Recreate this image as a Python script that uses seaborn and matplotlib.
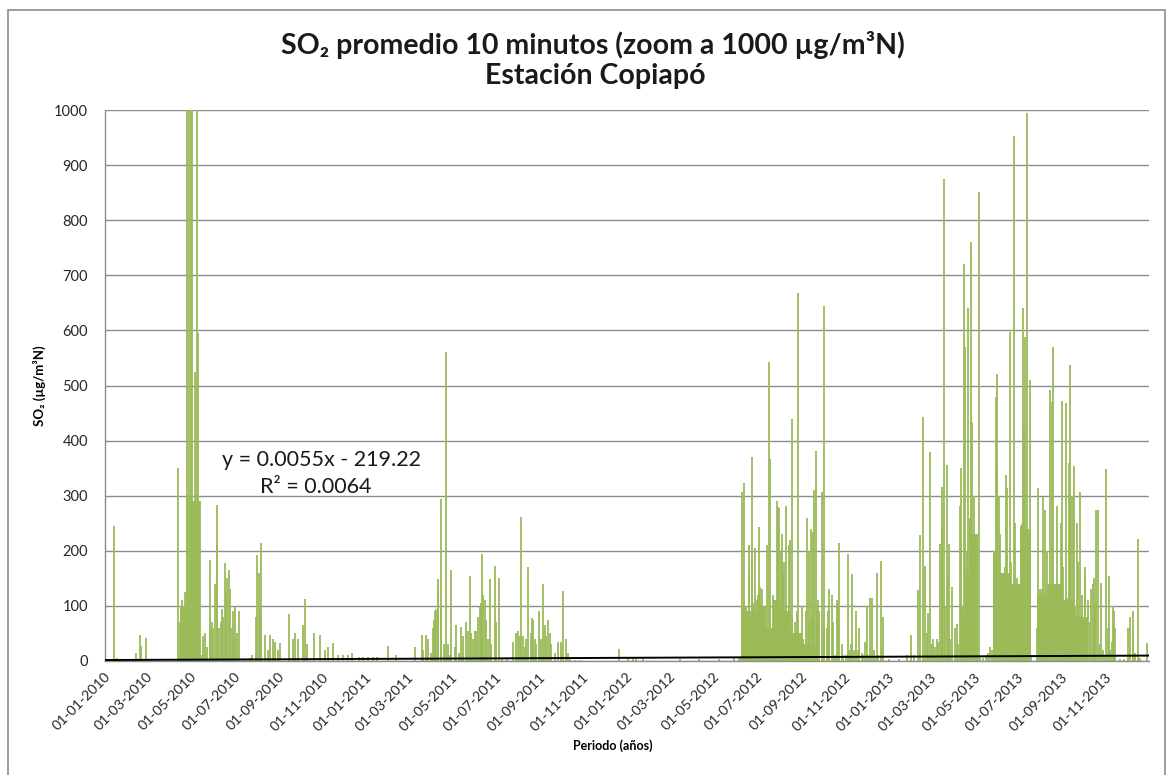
import numpy as np
import pandas as pd
import matplotlib
matplotlib.use("Agg")
import matplotlib.pyplot as plt
import seaborn as sns

# ---------------- data ----------------
start_date = "2010-01-01"
# days since 2010-01-01 for each visible 10-minute peak, and its value (µg/m³N, clipped at 1000)
days_2010 = [13, 18, 21, 44, 50, 51, 58, 103, 106, 108, 110, 113, 115, 116, 118, 120, 121, 123, 125,
             127, 129, 130, 131, 133, 136, 138, 140, 143, 147, 148, 150, 152, 154, 157, 158, 160,
             163, 165, 166, 168, 170, 172, 174, 175, 178, 180, 182, 183, 185, 188, 196, 203, 206,
             212, 214, 216, 217, 219, 224, 229, 232, 236, 239, 243, 246, 258, 263, 266, 271, 277,
             280, 283, 293, 301, 309, 313, 320, 327, 334, 341, 346, 356, 362]
vals_2010 = [245, 6, 4, 14, 48, 28, 42, 350, 70, 110, 95, 125, 300, 1000, 1000, 300, 1000, 1000, 290,
             525, 1000, 290, 595, 290, 10, 45, 50, 25, 183, 60, 70, 60, 140, 210, 283, 60,
             70, 95, 80, 178, 120, 150, 165, 130, 60, 90, 40, 100, 50, 90, 4, 5, 10,
             80, 193, 160, 100, 215, 47, 20, 47, 40, 35, 20, 32, 85, 40, 50, 40, 65,
             112, 30, 50, 48, 20, 25, 32, 10, 10, 10, 15, 8, 8]

days_2011 = [369, 376, 381, 396, 408, 434, 444, 446, 450, 452, 457, 460, 461, 462, 464, 466, 467, 470,
             471, 475, 478, 481, 483, 485, 490, 492, 496, 499, 502, 505, 508, 511, 513, 516, 518,
             520, 523, 525, 526, 528, 530, 532, 534, 537, 539, 541, 546, 548, 552, 556, 563, 572,
             576, 579, 581, 583, 585, 588, 590, 593, 596, 598, 599, 602, 604, 608, 610, 613, 616,
             618, 620, 623, 625, 630, 635, 638, 642, 646, 648, 651, 658, 665, 720]
vals_2011 = [8, 8, 8, 28, 10, 25, 48, 20, 48, 40, 15, 60, 75, 90, 95, 130, 149, 294,
             100, 30, 560, 30, 10, 165, 25, 66, 15, 62, 45, 70, 55, 155, 50, 40, 55,
             55, 80, 100, 105, 195, 120, 110, 75, 40, 149, 30, 172, 70, 151, 3, 3, 35,
             50, 55, 45, 262, 45, 25, 40, 171, 50, 78, 75, 40, 30, 90, 40, 140, 65,
             45, 75, 50, 30, 15, 35, 35, 127, 40, 15, 5, 2, 2, 22]

days_2012 = [732, 739, 743, 753, 805, 832, 860, 881, 887, 890, 892, 894, 895, 898, 899, 901, 902, 905,
             906, 908, 910, 912, 914, 915, 917, 919, 921, 923, 926, 928, 930, 931, 933, 935, 937,
             940, 942, 944, 946, 948, 949, 950, 953, 955, 957, 959, 961, 962, 964, 966, 968, 970,
             972, 975, 977, 981, 983, 985, 986, 988, 990, 991, 993, 995, 997, 998, 1000, 1003,
             1006, 1007, 1010, 1012, 1014, 1017, 1019, 1022, 1024, 1026, 1028, 1031, 1033, 1037,
             1040, 1042, 1044, 1046, 1048, 1051, 1054, 1056, 1059, 1061, 1064, 1066, 1068, 1071,
             1074, 1076, 1078, 1080, 1082, 1086, 1089]
vals_2012 = [8, 8, 6, 5, 3, 4, 4, 5, 5, 5, 307, 323, 105, 100, 70, 211, 160, 185,
             371, 105, 205, 110, 120, 243, 135, 130, 80, 100, 210, 50, 543, 366, 40, 120, 65,
             290, 280, 277, 200, 230, 160, 180, 281, 80, 210, 220, 439, 80, 50, 70, 90, 668,
             30, 100, 40, 90, 260, 70, 200, 240, 80, 235, 310, 381, 90, 110, 90, 306,
             645, 60, 60, 90, 130, 120, 70, 10, 110, 100, 215, 30, 10, 10,
             194, 20, 30, 158, 20, 90, 20, 60, 15, 10, 35, 100, 10, 115,
             115, 20, 5, 160, 10, 182, 80]

days_2013 = [1098, 1112, 1122, 1128, 1132, 1138, 1140, 1145, 1147, 1150, 1152, 1154, 1157, 1159, 1161,
             1164, 1166, 1168, 1171, 1172, 1174, 1176, 1178, 1180, 1181, 1183, 1186, 1189, 1192,
             1194, 1196, 1198, 1200, 1202, 1203, 1205, 1206, 1208, 1210, 1211, 1212, 1214, 1216,
             1218, 1220, 1221, 1223, 1225, 1229, 1233, 1236, 1239, 1241, 1244, 1247, 1248, 1249,
             1251, 1253, 1255, 1257, 1259, 1261, 1263, 1265, 1267, 1268, 1270, 1272, 1274, 1276,
             1278, 1280, 1282, 1284, 1285, 1286, 1288, 1290, 1292, 1294, 1296, 1305, 1306, 1309,
             1312, 1313, 1315, 1316, 1319, 1321, 1323, 1324, 1326, 1327, 1329, 1331, 1333, 1335,
             1337, 1338, 1339, 1341, 1343, 1345, 1347, 1349, 1350, 1352, 1354, 1356, 1357, 1360,
             1362, 1363, 1365, 1367, 1369, 1371, 1372, 1374, 1376, 1378, 1380, 1382, 1384, 1386,
             1387, 1390, 1393, 1394, 1396, 1399, 1401, 1403, 1405, 1407, 1409, 1410, 1412, 1414,
             1421, 1426, 1432, 1435, 1438, 1439, 1442, 1446, 1449, 1458]
vals_2013 = [3, 3, 10, 48, 10, 128, 229, 442, 173, 50, 87, 380, 30, 40, 25,
             40, 35, 212, 315, 240, 875, 100, 355, 155, 212, 40, 135, 60, 68,
             30, 282, 350, 100, 720, 570, 150, 200, 640, 260, 250, 760, 434, 300,
             200, 144, 30, 852, 10, 5, 10, 15, 25, 20, 30, 480, 347, 520,
             300, 230, 150, 75, 170, 337, 314, 60, 598, 180, 130, 953, 250, 150,
             140, 100, 245, 249, 641, 420, 588, 995, 220, 510, 10, 60, 314, 130,
             130, 297, 274, 115, 200, 130, 491, 85, 470, 570, 120, 90, 281, 30,
             120, 250, 471, 170, 110, 468, 115, 360, 537, 300, 300, 354, 100, 250,
             180, 30, 307, 120, 60, 170, 150, 50, 110, 70, 130, 140, 150, 100,
             274, 274, 30, 141, 20, 10, 349, 60, 155, 20, 35, 100, 90, 60,
             3, 3, 60, 80, 50, 90, 15, 222, 5, 33]

# typical (dense) level of the 10-minute record in busy periods: start day of each stretch and its level
base_day = [0, 106, 114, 120, 134, 891, 899, 912, 925, 935, 945, 958, 975, 1000,
            1196, 1205, 1212, 1222, 1243, 1252, 1266, 1280, 1296, 1304, 1318, 1340, 1355, 1375]
base_val = [0, 100, 120, 290, 0, 100, 90, 100, 60, 110, 90, 50, 30, 0,
            90, 160, 230, 0, 200, 160, 140, 240, 0, 120, 140, 110, 80, 0]

# linear trend given on the chart (x = Excel date serial)
trend_slope = 0.0055
trend_intercept = -219.22
excel_serial_start = 40179  # Excel serial of 2010-01-01

title_line1 = "SO\u2082 promedio 10 minutos (zoom a 1000 \u00b5g/m\u00b3N)"
title_line2 = "Estación Copiapó"
ylabel = "SO\u2082 (\u00b5g/m\u00b3N)"
xlabel = "Periodo (años)"
eq_text = "y = 0.0055x - 219.22"
r2_text = "R\u00b2 = 0.0064"
yticks = [0, 100, 200, 300, 400, 500, 600, 700, 800, 900, 1000]

# ---------------- build frames ----------------
t0 = pd.Timestamp(start_date)
days = days_2010 + days_2011 + days_2012 + days_2013
vals = vals_2010 + vals_2011 + vals_2012 + vals_2013
df = pd.DataFrame({"day": days, "so2": vals})
df["fecha"] = t0 + pd.to_timedelta(df["day"], unit="D")

base = pd.DataFrame({"day": base_day + [1461], "level": base_val + [0]})
base["fecha"] = t0 + pd.to_timedelta(base["day"], unit="D")

trend_days = np.array([0, 1461])
trend = pd.DataFrame({
    "fecha": t0 + pd.to_timedelta(trend_days, unit="D"),
    "y": trend_slope * (trend_days + excel_serial_start) + trend_intercept,
})

# ---------------- style ----------------
sns.set_theme(style="white")
font_list = ["Lato", "DejaVu Sans"]
plt.rcParams["font.family"] = font_list

green = "#9BBB59"
grid_c = "#8C8C8C"
txt_c = "#262626"

fig = plt.figure(figsize=(11.7, 7.75), dpi=100)
ax = fig.add_axes([104.5 / 1170, 1 - 661 / 775, (1149 - 104.5) / 1170, (661 - 110) / 775])

ax.fill_between(base["fecha"], 0, base["level"], step="post", color=green, linewidth=0, zorder=2)
ax.vlines(df["fecha"], 0, df["so2"], color=green, linewidth=1.3, zorder=2)
sns.lineplot(data=trend, x="fecha", y="y", color="black", linewidth=1.4, ax=ax, zorder=3)

ax.set_ylim(0, 1000)
ax.set_xlim(pd.Timestamp("2010-01-01"), pd.Timestamp("2014-01-01"))
ax.set_yticks(yticks)
ax.yaxis.grid(True, color=grid_c, linewidth=1.0, zorder=0)
ax.set_axisbelow(True)

tick_dates = pd.date_range("2010-01-01", "2013-11-01", freq="2MS")
ax.set_xticks(tick_dates)
ax.set_xticklabels([d.strftime("%d-%m-%Y") for d in tick_dates], rotation=45, ha="right",
                   rotation_mode="anchor", fontsize=10.2, color=txt_c)
ax.tick_params(axis="x", which="major", direction="out", length=5, width=1, color=grid_c, pad=2)
ax.tick_params(axis="y", which="major", direction="out", length=4, width=1, color=grid_c, pad=8,
               labelsize=10.5, labelcolor=txt_c)

for s in ["top", "right"]:
    ax.spines[s].set_visible(False)
for s in ["left", "bottom"]:
    ax.spines[s].set_color(grid_c)
    ax.spines[s].set_linewidth(1.0)

ax.set_xlabel(xlabel, fontsize=9, fontweight="bold", labelpad=2, color="black")
ax.xaxis.set_label_coords(0.487, -0.143)
ax.set_ylabel(ylabel, fontsize=9.5, fontweight="bold", color="black")
ax.yaxis.set_label_coords(-0.056, 0.5)

fig.text(593 / 1170, 1 - 45 / 775, title_line1, ha="center", va="center", fontsize=20.5,
         fontweight="bold", family=font_list, color="#1a1a1a")
fig.text(595 / 1170, 1 - 76 / 775, title_line2, ha="center", va="center", fontsize=20.5,
         fontweight="bold", family=font_list, color="#1a1a1a")

fig.text(322 / 1170, 1 - 460 / 775, eq_text, ha="center", va="center", fontsize=15.5, color="#1a1a1a")
fig.text(316 / 1170, 1 - 487 / 775, r2_text, ha="center", va="center", fontsize=15.5, color="#1a1a1a")

# chart outer border
border = plt.Rectangle((8 / 1170, -0.02), (1165 - 8) / 1170, 1 - 10 / 775 + 0.02, transform=fig.transFigure,
                       fill=False, edgecolor="#8C8C8C", linewidth=1.2)
fig.patches.append(border)

fig.savefig("out.png", dpi=100)
